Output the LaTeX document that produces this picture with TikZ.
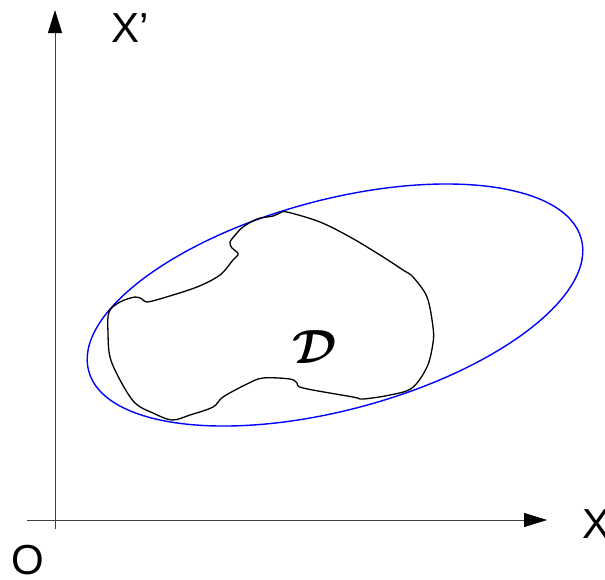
\documentclass[tikz,border=0pt]{standalone}
\usepackage{fontspec}
\usepackage{bm}
\newfontfamily\axfont{Liberation Sans}
\usetikzlibrary{arrows.meta}
\begin{document}
\begin{tikzpicture}[x=1pt,y=-1pt,
  axis/.style={line width=0.9pt,black!75,-{Triangle[length=23pt,width=14pt,black]}},
  axlabel/.style={inner sep=0pt,outer sep=0pt,font=\axfont\fontsize{42}{42}\selectfont},
  bound/.style={blue,line width=1.4pt},
  region/.style={black,line width=1.3pt}]
\useasboundingbox (0,0) rectangle (605,579);
% axes
\coordinate (vs) at (55,529);
\coordinate (ve) at (55,10);
\coordinate (hs) at (27,520);
\coordinate (he) at (547,520);
\draw[axis] (vs) -- (ve);
\draw[axis] (hs) -- (he);
\node[axlabel,anchor=base west] (xp) at (111,42) {X’};
\node[axlabel,anchor=base west] (x) at (582,538) {X};
\node[axlabel,anchor=base west] (o) at (11,574) {O};
% ellipse
\draw[bound,rotate around={15:(335,305)}] (335,305) ellipse [x radius=255, y radius=105];
% region
\draw[region] plot[smooth cycle,tension=0.55] coordinates {
(287,212) (320,222) (350,237) (380,255) (403,270) (413,277)
(427,297) (433,327) (433,343) (427,367) (412,388) (390,395) (363,399) (353,397)
(303,388) (297,383) (290,379) (263,378) (247,384) (223,397) (213,407) (190,415)
(172,420) (153,413) (135,403) (120,380) (110,357) (108,333) (109,312) (120,302)
(135,297) (142,299) (147,302) (163,298) (197,287) (220,275) (233,260) (238,255)
(237,252) (232,248) (230,242) (237,233) (243,227) (257,219) (273,216) (280,213)};
\node[scale=4.8,inner sep=0pt] (d) at (315,347) {$\bm{\mathcal{D}}$};
\end{tikzpicture}
\end{document}
